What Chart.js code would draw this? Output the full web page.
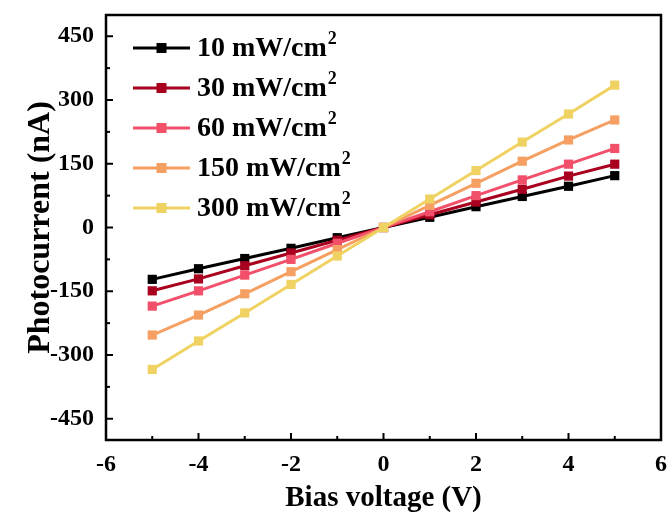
<!DOCTYPE html>
<html>
<head>
<meta charset="utf-8">
<script src="https://cdn.jsdelivr.net/npm/chart.js@4/dist/chart.umd.min.js"></script>
<style>
html,body{margin:0;padding:0;background:#fff;}
#wrap{width:669px;height:518px;}
</style>
</head>
<body>
<div id="wrap"><canvas id="c" width="669" height="518"></canvas></div>
<script>
const voltages = [-5, -4, -3, -2, -1, 0, 1, 2, 3, 4, 5];
const seriesLabels = ['10 mW/cm²', '30 mW/cm²', '60 mW/cm²', '150 mW/cm²', '300 mW/cm²'];
const i10  = [-122, -97, -73, -49, -24, 0, 24, 49, 73, 97, 122];
const i30  = [-149, -121, -90, -60, -30, 0, 30, 60, 90, 121, 149];
const i60  = [-185, -149, -112, -75, -37, 0, 37, 75, 112, 149, 186];
const i150 = [-253, -206, -156, -104, -52, 0, 52, 104, 156, 206, 253];
const i300 = [-334, -267, -201, -134, -67, 0, 67, 134, 201, 267, 335];
const yTicks = [-450, -300, -150, 0, 150, 300, 450];
const xTicks = [-6, -4, -2, 0, 2, 4, 6];
const colors = ['#000000', '#A8001E', '#F2506A', '#F5A062', '#EFD262'];

const FAM = "'Liberation Serif', 'Times New Roman', serif";
const allSeries = [i10, i30, i60, i150, i300];

const datasets = allSeries.map((s, k) => ({
  label: seriesLabels[k],
  data: voltages.map((v, i) => ({x: v, y: s[i]})),
  borderColor: colors[k],
  backgroundColor: colors[k],
  borderWidth: 3,
  pointStyle: 'rect',
  pointRadius: 6.5,
  pointBorderWidth: 0,
  pointHoverRadius: 6.5,
  showLine: true,
  order: 4 - k
}));

const framePlugin = {
  id: 'frame',
  afterDatasetsDraw(chart) {
    const {ctx, chartArea: a, scales} = chart;
    ctx.save();
    ctx.strokeStyle = '#000';
    ctx.lineWidth = 2.5;
    ctx.strokeRect(a.left, a.top, a.right - a.left, a.bottom - a.top);
    ctx.lineWidth = 2;
    const xs = scales.x;
    for (let v = -6; v <= 6; v += 1) {
      const px = xs.getPixelForValue(v);
      const len = (v % 2 === 0) ? 7 : 4;
      ctx.beginPath(); ctx.moveTo(px, a.bottom); ctx.lineTo(px, a.bottom - len); ctx.stroke();
    }
    const ys = scales.y;
    for (let v = -450; v <= 450; v += 75) {
      const py = ys.getPixelForValue(v);
      const len = (v % 150 === 0) ? 7 : 4;
      ctx.beginPath(); ctx.moveTo(a.left, py); ctx.lineTo(a.left + len, py); ctx.stroke();
    }
    // legend
    const x0 = a.left + 27, x1 = a.left + 84, tx = a.left + 91;
    chart.data.datasets.forEach((d, k) => {
      const y = a.top + 33 + k * 40;
      ctx.strokeStyle = d.borderColor;
      ctx.fillStyle = d.borderColor;
      ctx.lineWidth = 3;
      ctx.beginPath(); ctx.moveTo(x0, y); ctx.lineTo(x1, y); ctx.stroke();
      ctx.fillRect((x0 + x1) / 2 - 5, y - 5, 10, 10);
      ctx.fillStyle = '#000';
      ctx.font = "bold 28px " + FAM;
      ctx.textBaseline = 'middle';
      ctx.textAlign = 'left';
      const base = d.label.replace('²', '');
      ctx.fillText(base, tx, y + 1);
      const w = ctx.measureText(base).width;
      ctx.font = "bold 18px " + FAM;
      ctx.fillText('2', tx + w + 1, y - 9);
    });
    ctx.restore();
  }
};

function zeroPad(s) { s.paddingLeft = 0; s.paddingRight = 0; s.paddingTop = 0; s.paddingBottom = 0; }

new Chart(document.getElementById('c'), {
  type: 'scatter',
  data: {datasets},
  options: {
    responsive: false,
    animation: false,
    devicePixelRatio: 1,
    layout: {padding: {top: 15, right: 8, left: 0, bottom: 0}},
    plugins: {legend: {display: false}, tooltip: {enabled: false}},
    scales: {
      x: {
        type: 'linear', min: -6, max: 6,
        afterFit(s) { s.height = 78; zeroPad(s); },
        afterBuildTicks(s) { s.ticks = xTicks.map(v => ({value: v})); },
        grid: {display: false, drawTicks: false},
        border: {display: false},
        ticks: {color: '#000', padding: 10, font: {family: FAM, size: 24, weight: 'bold'}},
        title: {display: true, text: 'Bias voltage (V)', color: '#000',
          font: {family: FAM, size: 29, weight: 'bold'}, padding: {top: 0, bottom: 2}}
      },
      y: {
        type: 'linear', min: -500, max: 500,
        afterFit(s) { s.width = 106; zeroPad(s); },
        afterBuildTicks(s) { s.ticks = yTicks.map(v => ({value: v})); },
        grid: {display: false, drawTicks: false},
        border: {display: false},
        ticks: {color: '#000', padding: 12, font: {family: FAM, size: 24, weight: 'bold'}},
        title: {display: true, text: 'Photocurrent (nA)', color: '#000',
          font: {family: FAM, size: 32, weight: 'bold'}, padding: {top: 22, bottom: 0}}
      }
    }
  },
  plugins: [framePlugin]
});
</script>
</body>
</html>
